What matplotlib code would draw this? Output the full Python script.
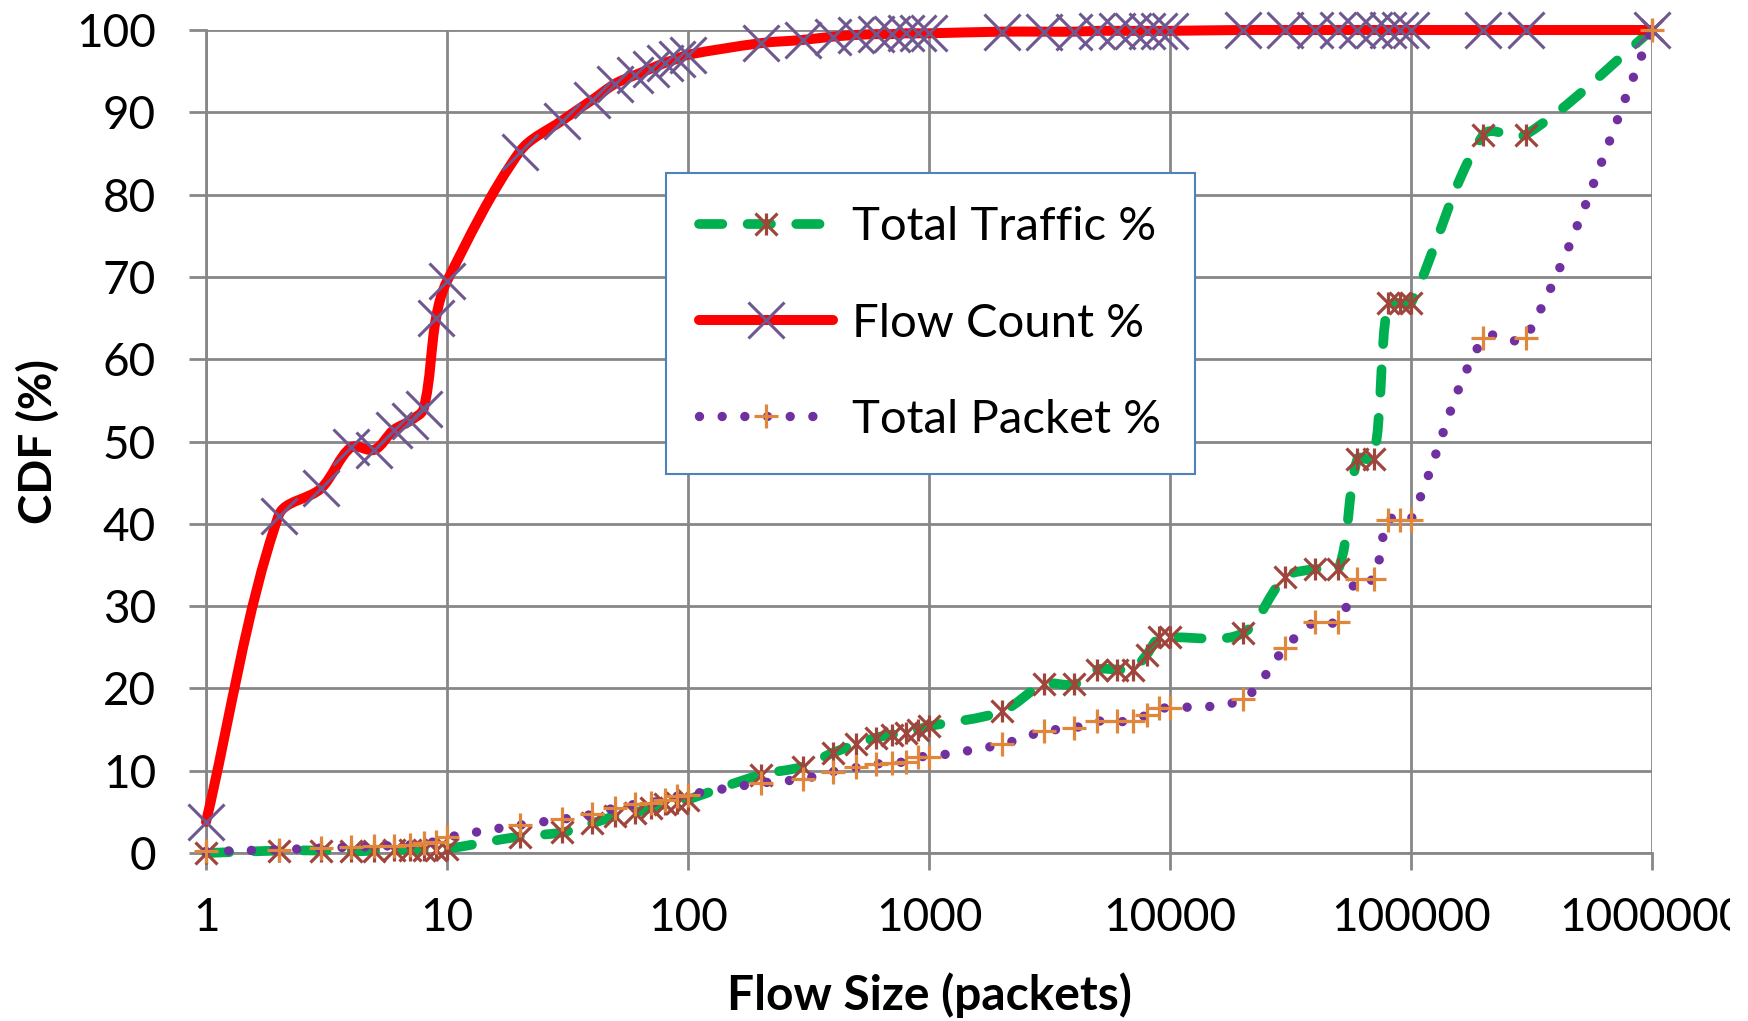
import numpy as np
import matplotlib
matplotlib.use("Agg")
import matplotlib.pyplot as plt
from matplotlib.path import Path
from matplotlib.patches import PathPatch
from matplotlib.lines import Line2D
from matplotlib.legend_handler import HandlerTuple
from matplotlib.transforms import Bbox, TransformedBbox

plt.rcParams['font.family'] = ['Lato', 'DejaVu Sans']

# flow sizes (packets) where the CDF was sampled
flow_size = [1, 2, 3, 4, 5, 6, 7, 8, 9, 10,
             20, 30, 40, 50, 60, 70, 80, 90, 100,
             200, 300, 400, 500, 600, 700, 800, 900, 1000,
             2000, 3000, 4000, 5000, 6000, 7000, 8000, 9000, 10000,
             20000, 30000, 40000, 50000, 60000, 70000, 80000, 90000, 100000,
             200000, 300000, 1000000]

total_traffic = [0.0, 0.3, 0.3, 0.2, 0.3, 0.4, 0.4, 0.4, 0.4, 0.5,
                 2.0, 2.5, 3.6, 4.5, 4.9, 5.5, 5.9, 6.1, 6.5,
                 9.5, 10.5, 12.2, 13.2, 14.0, 14.4, 14.6, 15.0, 15.4,
                 17.2, 20.5, 20.5, 22.3, 22.3, 22.3, 24.1, 26.2, 26.2,
                 26.7, 33.5, 34.5, 34.5, 47.9, 47.9, 66.8, 66.8, 66.8,
                 87.3, 87.3, 100.0]

flow_count = [3.8, 41.0, 44.3, 49.3, 49.0, 51.4, 52.5, 54.0, 65.0, 69.5,
              85.2, 89.0, 91.5, 93.5, 94.5, 95.3, 96.0, 96.5, 97.0,
              98.4, 98.8, 99.2, 99.4, 99.5, 99.5, 99.6, 99.6, 99.6,
              99.8, 99.8, 99.8, 99.9, 99.9, 99.9, 99.9, 99.9, 99.9,
              100, 100, 100, 100, 100, 100, 100, 100, 100,
              100, 100, 100]

total_packet = [0.2, 0.4, 0.6, 0.7, 0.8, 0.9, 1.0, 1.2, 1.4, 1.9,
                3.4, 4.1, 4.7, 5.5, 5.9, 6.1, 6.5, 6.9, 7.1,
                8.5, 9.0, 9.9, 10.4, 10.8, 11.0, 11.1, 11.7, 11.7,
                13.2, 14.8, 15.2, 16.0, 16.0, 16.0, 16.8, 17.6, 17.6,
                18.7, 24.9, 28.1, 28.1, 33.3, 33.3, 40.5, 40.5, 40.5,
                62.6, 62.6, 100.0]

x_ticks = [1, 10, 100, 1000, 10000, 100000, 1000000]
x_tick_labels = ['1', '10', '100', '1000', '10000', '100000', '1000000']
y_ticks = list(range(0, 101, 10))

GREEN = '#00b050'
RED = '#ff0000'
DOTS = '#7030a0'
ASTER = '#a0453c'
XMARK = '#6f5790'
PLUS = '#e0873c'
GRID = '#878787'


def smooth_path(ax, x, y, t=1.0 / 3):
    # Excel-like smoothed line: bezier segments with chord-length scaled
    # tangents, worked out in display space and mapped back to data
    pts = ax.transData.transform(np.column_stack([x, y]))
    n = len(pts)
    verts = [pts[0]]
    codes = [Path.MOVETO]
    for i in range(n - 1):
        p0 = pts[i - 1] if i > 0 else pts[i]
        p1, p2 = pts[i], pts[i + 1]
        p3 = pts[i + 2] if i + 2 < n else pts[i + 1]
        d01 = np.hypot(*(p1 - p0))
        d12 = np.hypot(*(p2 - p1))
        d23 = np.hypot(*(p3 - p2))
        c1 = p1 + (p2 - p0) * t * d12 / (d01 + d12)
        c2 = p2 - (p3 - p1) * t * d12 / (d12 + d23)
        verts += [c1, c2, p2]
        codes += [Path.CURVE4] * 3
    verts = ax.transData.inverted().transform(np.array(verts))
    return Path(verts, codes)


fig = plt.figure(figsize=(17.49, 10.21), dpi=100)
ax = fig.add_axes([0.1178, 0.1645, 0.8267, 0.8061])
ax.set_xscale('log')
ax.set_xlim(1, 1000000)
ax.set_ylim(0, 100)

dash_style = (0, (2.4, 2.6))
dot_style = (0, (0.001, 2.4))

# Total traffic
ax.add_patch(PathPatch(smooth_path(ax, flow_size, total_traffic), fill=False,
                       edgecolor=GREEN, lw=7.0, linestyle=dash_style,
                       capstyle='round', joinstyle='round', clip_on=False, zorder=3))
ax.plot(flow_size, total_traffic, ls='none', marker='x', ms=16, mew=2.3,
        color=ASTER, clip_on=False, zorder=4)
ax.plot(flow_size, total_traffic, ls='none', marker='|', ms=16, mew=2.3,
        color=ASTER, clip_on=False, zorder=4)

# Flow count
ax.add_patch(PathPatch(smooth_path(ax, flow_size, flow_count), fill=False,
                       edgecolor=RED, lw=7.2, capstyle='round', joinstyle='round',
                       clip_on=False, zorder=5))
ax.plot(flow_size, flow_count, ls='none', marker='x', ms=26, mew=2.2,
        color=XMARK, clip_on=False, zorder=6)

# Total packet
ax.add_patch(PathPatch(smooth_path(ax, flow_size, total_packet), fill=False,
                       edgecolor=DOTS, lw=6.8, linestyle=dot_style,
                       capstyle='round', joinstyle='round', clip_on=False, zorder=7))
ax.plot(flow_size, total_packet, ls='none', marker='+', ms=17, mew=2.3,
        color=PLUS, clip_on=False, zorder=8)

ax.xaxis.set_minor_locator(matplotlib.ticker.NullLocator())
ax.set_xticks(x_ticks)
ax.set_xticklabels(x_tick_labels)
ax.set_yticks(y_ticks)

ax.grid(True, color=GRID, lw=2.0)
ax.set_axisbelow(True)
for side in ['top', 'right']:
    ax.spines[side].set_visible(False)
for side in ['bottom', 'left']:
    ax.spines[side].set_color(GRID)
    ax.spines[side].set_linewidth(2.0)
ax.tick_params(axis='both', length=12, width=2, color=GRID, labelsize=33)
ax.tick_params(axis='x', pad=20)
ax.tick_params(axis='y', pad=24)

# the original picture cuts off the last tick label at its right edge
clip = TransformedBbox(Bbox([[0, 0], [0.989, 1]]), fig.transFigure)
for lab in ax.get_xticklabels():
    lab.set_clip_box(clip)
    lab.set_clip_on(True)

ax.set_xlabel('Flow Size (packets)', fontsize=34.5, fontweight='bold', labelpad=24)
ax.set_ylabel('CDF (%)', fontsize=33, fontweight='bold', labelpad=12)

h_traffic = (Line2D([], [], color=GREEN, lw=7.0, ls=dash_style, dash_capstyle='round'),
             Line2D([], [], ls='none', marker='x', ms=16, mew=2.3, color=ASTER),
             Line2D([], [], ls='none', marker='|', ms=16, mew=2.3, color=ASTER))
h_flow = (Line2D([], [], color=RED, lw=7.2, solid_capstyle='round'),
          Line2D([], [], ls='none', marker='x', ms=26, mew=2.2, color=XMARK))
h_packet = (Line2D([], [], color=DOTS, lw=6.8, ls=dot_style, dash_capstyle='round'),
            Line2D([], [], ls='none', marker='+', ms=17, mew=2.3, color=PLUS))

leg = ax.legend([h_traffic, h_flow, h_packet],
                ['Total Traffic %', 'Flow Count %', 'Total Packet %'],
                handler_map={tuple: HandlerTuple(ndivide=1)},
                loc='upper left', bbox_to_anchor=(0.318, 0.826), fontsize=34,
                frameon=True, fancybox=False, framealpha=1, edgecolor='#4f81bd',
                handlelength=2.85, handletextpad=0.4, labelspacing=1.15,
                borderpad=0.7, borderaxespad=0, numpoints=1)
leg.get_frame().set_linewidth(1.5)
leg.set_zorder(10)

fig.savefig('out.png', dpi=100, facecolor='white')
